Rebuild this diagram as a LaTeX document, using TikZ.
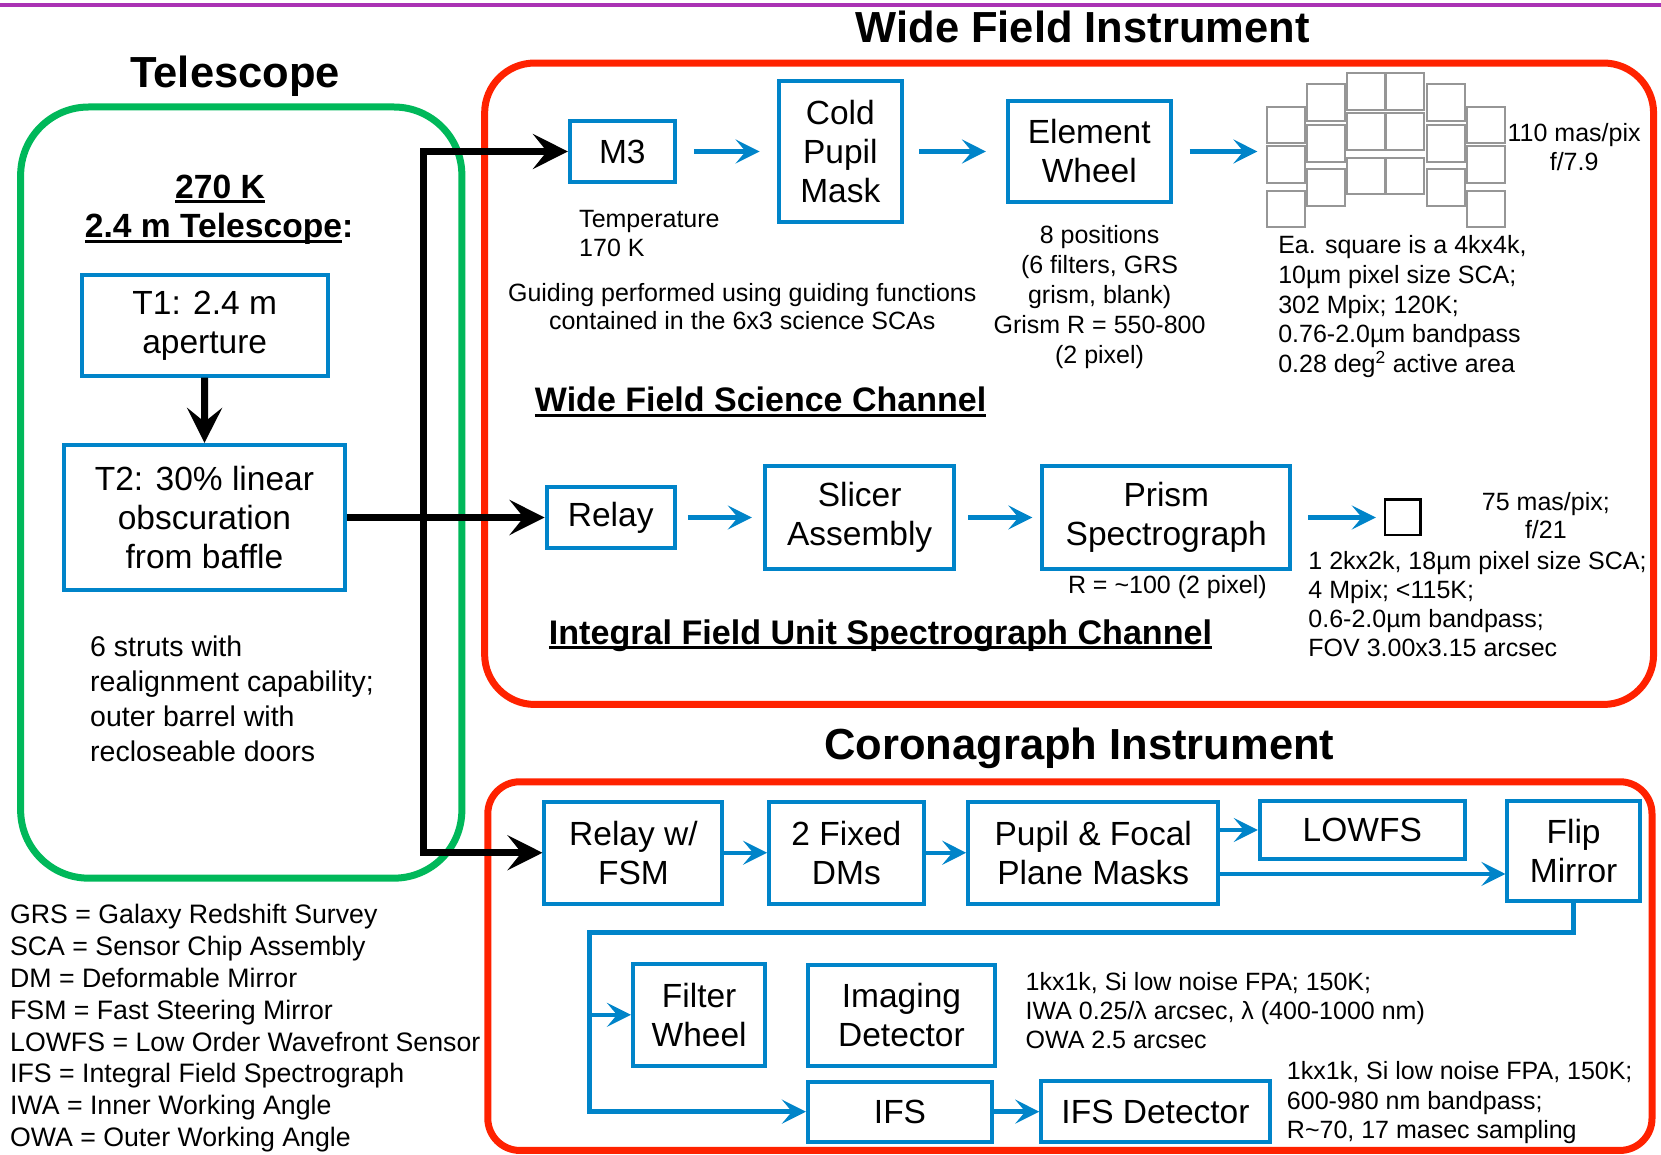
\documentclass[tikz,border=0pt]{standalone}
\usepackage{fontspec}
\setmainfont{Liberation Sans}
\usetikzlibrary{arrows.meta}
\definecolor{cblue}{RGB}{0,132,201}
\definecolor{cgreen}{RGB}{0,184,90}
\definecolor{cred}{RGB}{255,34,0}
\definecolor{cpurple}{RGB}{170,50,180}
\definecolor{cgray}{RGB}{150,150,150}
\newcommand\ulbox[1]{\setbox0\hbox{#1}\rlap{\raisebox{-5pt}{\rule{\wd0}{3pt}}}\box0}
\begin{document}
\begin{tikzpicture}[x=1.0593pt,y=-1.0593pt,
  wh/.style 2 args={minimum width=#1*1.0593pt, minimum height=#2*1.0593pt},
  bx/.style={draw=cblue, line width=4pt, fill=white, align=center, inner sep=0pt,
    font=\fontsize{33.5}{39}\selectfont},
  ttl/.style={font=\fontsize{43.5}{50}\selectfont\bfseries, anchor=base, inner sep=0pt},
  hd/.style={font=\fontsize{#1}{38}\selectfont\bfseries, inner sep=0pt},
  sm/.style={inner sep=0pt, font=\fontsize{25}{#1}\selectfont},
  ba/.style={draw=cblue, line width=4.5pt, -{Stealth[length=24pt,width=24pt,inset=10pt]}},
  ka/.style={draw=black, line width=7pt, -{Stealth[length=35pt,width=35pt,inset=14pt]}},
  frame/.style={line width=7pt, rounded corners=#1},
  sq/.style={draw=cgray, line width=2pt}
  ]
\useasboundingbox (0,0) rectangle (1568,1090);
% top line
\draw[cpurple, line width=4.5pt] (0,4.5) -- (1568,4.5);

% frames
\draw[frame=68pt, draw=cgreen] (19.5,101) rectangle (436,829);
\draw[frame=50pt, draw=cred] (457.5,59.5) rectangle (1561,665);
\draw[frame=32pt, draw=cred] (460.5,738) rectangle (1559.5,1086);

% titles
\node[ttl] (tel) at (222,83) {Telescope};
\node[ttl] (wfi) at (1022,40) {Wide Field Instrument};
\node[ttl] (ci) at (1019,717) {Coronagraph Instrument};

% telescope
\node[hd=33.6, anchor=base] (k270) at (207.7,187) {\ulbox{270 K}};
\node[hd=33.6, anchor=base] (tel24) at (206.8,224.4) {\ulbox{2.4 m Telescope}:};
\node[bx, wh={232.5}{95}] (t1) at (193.25,307.1) {T1: 2.4 m\\aperture};
\node[bx, wh={265.3}{137}] (t2) at (193,488.5) {T2: 30\% linear\\obscuration\\from baffle};
\node[anchor=base west, align=left, inner sep=0pt, font=\fontsize{28.5}{35}\selectfont] (struts) at (85,719)
  {6 struts with\\realignment capability;\\outer barrel with\\recloseable doors};
\node[anchor=base west, align=left, inner sep=0pt, font=\fontsize{26.7}{31.9}\selectfont] (leg) at (9.4,1082.5)
  {GRS = Galaxy Redshift Survey\\SCA = Sensor Chip Assembly\\DM = Deformable Mirror\\FSM = Fast Steering Mirror\\LOWFS = Low Order Wavefront Sensor\\IFS = Integral Field Spectrograph\\IWA = Inner Working Angle\\OWA = Outer Working Angle};

% wide field science channel
\node[bx, wh={99}{58}] (m3) at (587.5,143) {M3};
\node[bx, wh={116.5}{133}] (cpm) at (793.25,143) {Cold\\Pupil\\Mask};
\node[bx, wh={153.5}{96}] (ew) at (1028.25,143) {Element\\Wheel};
\coordinate (mos) at (1187,143);
\foreach \xx/\yy in {1196/100.7,1196/137.8,1196/180,
                     1234/79.6,1234/118,1234/159.8,
                     1272/69.2,1272/107,1272/148.9,
                     1308.5/69.2,1308.5/107,1308.5/148.9,
                     1347/79.6,1347/118,1347/159.8,
                     1385/100.7,1385/137.8,1385/180}
  \draw[sq] (\xx,\yy) rectangle ++(35.5,34.5);
\node[sm=28.4, anchor=base, align=center] (plate) at (1486,160.5) {110 mas/pix\\f/7.9};
\node[sm=28.7, anchor=base west, align=left] (temp) at (546.6,242) {Temperature\\170 K};
\node[sm=28.3, anchor=base, align=center] (guid) at (700.7,311.5)
  {Guiding performed using guiding functions\\contained in the 6x3 science SCAs};
\node[sm=30.2, anchor=base, align=center] (ewn) at (1038,343.6)
  {8 positions\\(6 filters, GRS\\grism, blank)\\Grism R = 550-800\\(2 pixel)};
\node[sm=29.9, anchor=base west, align=left] (sqn) at (1206.5,352)
  {Ea. square is a 4kx4k,\\10µm pixel size SCA;\\302 Mpix; 120K;\\0.76-2.0µm bandpass\\0.28 deg\textsuperscript{2} active area};
\node[hd=34, anchor=base] (wfsc) at (718,388.6) {\ulbox{Wide Field Science Channel}};

% IFU channel
\node[bx, wh={121}{57}] (relay) at (576.5,488.5) {Relay};
\node[bx, wh={179}{97}] (slicer) at (811.5,488.5) {Slicer\\Assembly};
\node[bx, wh={234}{97}] (prism) at (1101,488.5) {Prism\\Spectrograph};
\node[draw=black, line width=2.5pt, inner sep=0pt, wh={33.5}{33.5}] (ifusca) at (1324.25,488.5) {};
\node[sm=28, anchor=base] (rres) at (1102,560) {R = \textasciitilde100 (2 pixel)};
\node[sm=28, anchor=base, align=center] (ifup) at (1459.3,508) {75 mas/pix;\\f/21};
\node[sm=29.1, anchor=base west, align=left] (ifun) at (1235,620)
  {1 2kx2k, 18µm pixel size SCA;\\4 Mpix; <115K;\\0.6-2.0µm bandpass;\\FOV 3.00x3.15 arcsec};
\node[hd=34.1, anchor=base west] (ifusc) at (518,608) {\ulbox{Integral Field Unit Spectrograph Channel}};

% coronagraph
\node[bx, wh={168}{96.6}] (rfsm) at (598,805) {Relay w/\\FSM};
\node[bx, wh={146}{96.6}] (dms) at (799,805) {2 Fixed\\DMs};
\node[bx, wh={236}{96.6}] (ppm) at (1032,805) {Pupil \& Focal\\Plane Masks};
\node[bx, wh={193.5}{55}] (lowfs) at (1286,783.5) {LOWFS};
\node[bx, wh={125}{95}] (flip) at (1485.5,803.5) {Flip\\Mirror};
\node[bx, wh={125}{96}] (fw) at (660,958) {Filter\\Wheel};
\node[bx, wh={175.7}{95}] (imd) at (851,958.5) {Imaging\\Detector};
\node[bx, wh={173.8}{56.8}] (ifs) at (849.6,1049.4) {IFS};
\node[bx, wh={215.7}{57.8}] (ifsd) at (1090.8,1049.4) {IFS Detector};
\node[sm=29, anchor=base west, align=left] (imn) at (968,989.6)
  {1kx1k, Si low noise FPA; 150K;\\IWA 0.25/λ arcsec, λ (400-1000 nm)\\OWA 2.5 arcsec};
\node[sm=29.2, anchor=base west, align=left] (ifsn) at (1214.7,1074.6)
  {1kx1k, Si low noise FPA, 150K;\\600-980 nm bandpass;\\R\textasciitilde70, 17 masec sampling};

% black connectors
\coordinate (j) at (400,488.5);
\draw[ka] (t1.south) -- (t2.north);
\draw[ka] (t2.east) -- (relay.west);
\draw[ka] (j) |- (m3.west);
\draw[ka] (j) |- (rfsm.west);

% blue connectors
\draw[ba, shorten <=17pt, shorten >=17pt] (m3.east) -- (cpm.west);
\draw[ba, shorten <=15pt, shorten >=20pt] (cpm.east) -- (ew.west);
\draw[ba, shorten <=17pt] (ew.east) -- (mos);
\draw[ba, shorten <=11pt, shorten >=11pt] (relay.east) -- (slicer.west);
\draw[ba, shorten <=12pt, shorten >=8pt] (slicer.east) -- (prism.west);
\draw[ba, shorten <=16pt, shorten >=8pt] (prism.east) -- (ifusca.west);
\draw[ba] (rfsm.east) -- (dms.west);
\draw[ba] (dms.east) -- (ppm.west);
\draw[ba] (lowfs.west -| ppm.east) -- (lowfs.west);
\draw[ba] ([yshift=-21.2pt]ppm.east) -- ([yshift=-21.2pt]ppm.east -| flip.west);
\coordinate (c2) at (556.6,880.5);
\draw[ba] (flip.south) |- (c2) |- (ifs.west);
\draw[ba] (c2 |- fw.west) -- (fw.west);
\draw[ba] (ifs.east) -- (ifsd.west);
\end{tikzpicture}
\end{document}
